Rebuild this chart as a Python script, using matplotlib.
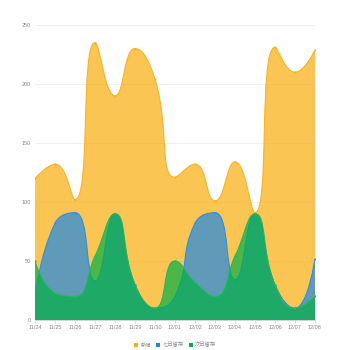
import numpy as np
import matplotlib
matplotlib.use("Agg")
import matplotlib.pyplot as plt
from matplotlib.path import Path
from matplotlib.patches import PathPatch, Patch

plt.rcParams['font.family'] = ['Liberation Sans', 'Noto Sans CJK SC', 'DejaVu Sans']

dates = ['11/24', '11/25', '11/26', '11/27', '11/28', '11/29', '11/30',
         '12/01', '12/02', '12/03', '12/04', '12/05', '12/06', '12/07', '12/08']
new_users = [120, 132, 102, 235, 190, 230, 204, 121, 132, 101, 134, 91, 231, 210, 229]
retention_7d = [20, 82, 91, 33, 90, 30, 10, 20, 82, 91, 34, 90, 30, 10, 52]
retention_1d = [50, 23, 20, 54, 90, 30, 10, 50, 32, 20, 54, 90, 30, 10, 20]
y_ticks = [0, 50, 100, 150, 200, 250]

series = [
    ('新增', new_users, '#FAAD0C', '#F7B32B'),
    ('七日留存', retention_7d, '#1E88E5', '#2F8FE0'),
    ('次日留存', retention_1d, '#02B045', '#2DB55D'),
]

fig = plt.figure(figsize=(3.5, 3.5), dpi=100)
ax = fig.add_axes([0.1, 0.0857, 0.8, 0.843])
ax.set_xlim(0, len(dates) - 1)
ax.set_ylim(0, 250)

# pixel scale used for smoothing (x px per category, y px per unit)
SX, SY = 20.0, 295.0 / 250.0


def smooth_path(xs, ys, smooth=0.5):
    """Clamped cubic bezier smoothing, computed in pixel space."""
    px = np.asarray(xs, float) * SX
    py = np.asarray(ys, float) * SY
    n = len(px)
    verts = [(px[0], py[0])]
    codes = [Path.MOVETO]
    cp0 = (px[0], py[0])
    for i in range(1, n):
        x, y = px[i], py[i]
        prevx, prevy = px[i - 1], py[i - 1]
        if i == n - 1:
            cp1 = (x, y)
            nxt = None
        else:
            nx_, ny_ = px[i + 1], py[i + 1]
            vx, vy = nx_ - prevx, ny_ - prevy
            lp = np.hypot(x - prevx, y - prevy)
            ln = np.hypot(nx_ - x, ny_ - y)
            r = ln / (ln + lp)
            ncx = x + vx * smooth * r
            ncy = y + vy * smooth * r
            ncx = min(ncx, max(nx_, x)); ncy = min(ncy, max(ny_, y))
            ncx = max(ncx, min(nx_, x)); ncy = max(ncy, min(ny_, y))
            vx, vy = ncx - x, ncy - y
            c1x = x - vx * lp / ln
            c1y = y - vy * lp / ln
            c1x = min(c1x, max(prevx, x)); c1y = min(c1y, max(prevy, y))
            c1x = max(c1x, min(prevx, x)); c1y = max(c1y, min(prevy, y))
            vx, vy = x - c1x, y - c1y
            ncx = x + vx * ln / lp
            ncy = y + vy * ln / lp
            cp1 = (c1x, c1y)
            nxt = (ncx, ncy)
        verts += [cp0, cp1, (x, y)]
        codes += [Path.CURVE4] * 3
        cp0 = nxt
    verts = [(vx_ / SX, vy_ / SY) for vx_, vy_ in verts]
    return verts, codes


xs = np.arange(len(dates))
for z, (name, vals, base, line) in enumerate(series):
    verts, codes = smooth_path(xs, vals)
    fill_verts = verts + [(xs[-1], 0), (xs[0], 0), (xs[0], vals[0])]
    fill_codes = codes + [Path.LINETO, Path.LINETO, Path.CLOSEPOLY]
    ax.add_patch(PathPatch(Path(fill_verts, fill_codes), facecolor=base,
                           edgecolor='none', alpha=0.7, zorder=2 + z * 0.1))
    ax.add_patch(PathPatch(Path(verts, codes), facecolor='none',
                           edgecolor=line, lw=0.8, zorder=2.05 + z * 0.1))
    ax.plot(xs, vals, 'o', ms=1.6, color=line, mec='none', zorder=2.06 + z * 0.1)

ax.set_yticks(y_ticks)
ax.set_xticks(xs)
ax.set_xticklabels(dates)
ax.grid(axis='y', color='#ECECF2', lw=0.6, zorder=0)
for s in ['top', 'right', 'left']:
    ax.spines[s].set_visible(False)
ax.spines['bottom'].set_color('#CCCCCC')
ax.spines['bottom'].set_linewidth(0.6)
ax.tick_params(axis='both', length=0, labelsize=4.0, colors='#888888', pad=3)
ax.tick_params(axis='x', length=2, width=0.5, color='#CCCCCC', pad=1.5)

handles = [Patch(facecolor=b, edgecolor='none') for _, _, b, _ in series]
labels = [s[0] for s in series]
leg = fig.legend(handles, labels, loc='center', bbox_to_anchor=(0.5, 1 - 345 / 350),
                 ncol=3, frameon=False, handlelength=0.8,
                 handleheight=0.8, handletextpad=0.4, columnspacing=1.0,
                 prop={'family': ['Noto Sans CJK SC'], 'size': 3.8})
for t in leg.get_texts():
    t.set_color('#888888')

fig.savefig('out.png', dpi=100, facecolor='white')
